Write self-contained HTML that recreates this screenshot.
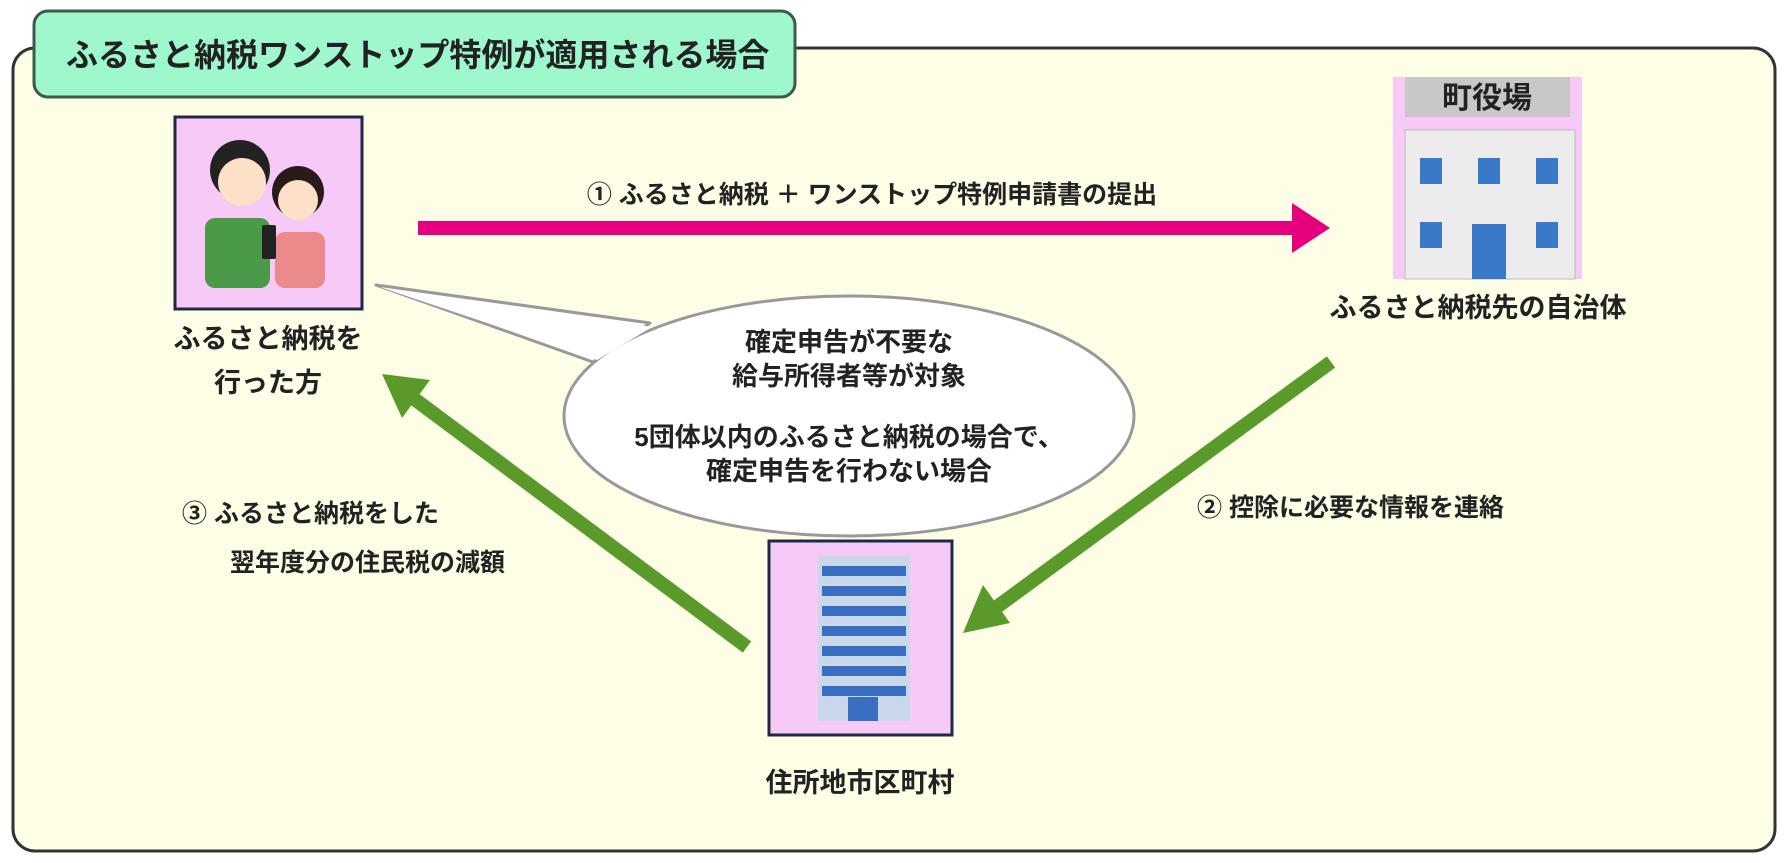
<!DOCTYPE html>
<html><head><meta charset="utf-8"><style>
html,body{margin:0;padding:0;background:#fff;width:1787px;height:863px;overflow:hidden}
svg text{font-family:"Liberation Sans","Noto Sans CJK JP",sans-serif;font-weight:bold;fill:#222}
</style></head><body>
<svg width="1787" height="863" viewBox="0 0 1787 863" xmlns="http://www.w3.org/2000/svg">
<rect x="13" y="48" width="1762" height="803" rx="22" fill="#fefee6" stroke="#333" stroke-width="3"/>
<rect x="34" y="11" width="761" height="86" rx="14" fill="#9ff7cc" stroke="#3c5a48" stroke-width="3"/>
<text x="66" y="66" font-size="32">ふるさと納税ワンストップ特例が適用される場合</text>

<!-- people box -->
<rect x="175" y="117" width="187" height="192" fill="#f7c9f7" stroke="#1e2a44" stroke-width="3"/>
<circle cx="240" cy="170" r="30" fill="#222"/><circle cx="242" cy="182" r="24" fill="#fde0c8"/>
<rect x="205" y="218" width="65" height="70" rx="10" fill="#4a9a4a"/>
<circle cx="298" cy="192" r="26" fill="#2a1a1a"/><circle cx="298" cy="200" r="20" fill="#fde0c8"/>
<rect x="275" y="232" width="50" height="56" rx="10" fill="#ea8a8a"/>
<rect x="262" y="225" width="14" height="34" rx="2" fill="#222"/>
<text x="268" y="348" font-size="27" text-anchor="middle">ふるさと納税を</text>
<text x="268" y="392" font-size="27" text-anchor="middle">行った方</text>

<!-- town hall -->
<rect x="1393" y="77" width="189" height="202" fill="#f7c9f7"/>
<rect x="1405" y="77" width="165" height="40" fill="#c8c8c8"/>
<text x="1487" y="108" font-size="30" text-anchor="middle" fill="#444">町役場</text>
<rect x="1405" y="130" width="170" height="149" fill="#ececec" stroke="#bbb"/>
<g fill="#3a78c8"><rect x="1420" y="158" width="22" height="26"/><rect x="1478" y="158" width="22" height="26"/><rect x="1536" y="158" width="22" height="26"/><rect x="1420" y="222" width="22" height="26"/><rect x="1536" y="222" width="22" height="26"/><rect x="1472" y="224" width="34" height="55"/></g>
<text x="1478" y="317" font-size="27" text-anchor="middle">ふるさと納税先の自治体</text>

<!-- city building -->
<rect x="769" y="541" width="183" height="194" fill="#f7c9f7" stroke="#1e2a44" stroke-width="3"/>
<rect x="818" y="556" width="92" height="165" fill="#c8d8ea"/>
<g fill="#3a6ec0"><rect x="822" y="566" width="84" height="10"/><rect x="822" y="586" width="84" height="10"/><rect x="822" y="606" width="84" height="10"/><rect x="822" y="626" width="84" height="10"/><rect x="822" y="646" width="84" height="10"/><rect x="822" y="666" width="84" height="10"/><rect x="822" y="686" width="84" height="10"/><rect x="848" y="697" width="30" height="24"/></g>
<text x="860" y="792" font-size="27" text-anchor="middle">住所地市区町村</text>

<!-- pink arrow -->
<rect x="418" y="221" width="880" height="14" fill="#e6007e"/>
<polygon points="1292,203 1330,228 1292,253" fill="#e6007e"/>
<text x="872" y="203" font-size="25" text-anchor="middle">① ふるさと納税 ＋ ワンストップ特例申請書の提出</text>

<!-- green arrow 2 -->
<line x1="1331" y1="362" x2="990" y2="612" stroke="#5a9a2a" stroke-width="14"/>
<polygon points="963,633 983,585 1010,623" fill="#5a9a2a"/>
<text x="1197" y="516" font-size="25">② 控除に必要な情報を連絡</text>

<!-- green arrow 3 -->
<line x1="747" y1="647" x2="405" y2="392" stroke="#5a9a2a" stroke-width="14"/>
<polygon points="382,374 430,380 402,418" fill="#5a9a2a"/>
<text x="182" y="522" font-size="25">③ ふるさと納税をした</text>
<text x="230" y="571" font-size="25">翌年度分の住民税の減額</text>

<!-- bubble -->
<polygon points="376,285 650,323 593,362" fill="#fff" stroke="#999" stroke-width="3" stroke-linejoin="round"/>
<ellipse cx="849" cy="416" rx="285" ry="120" fill="#fff" stroke="#999" stroke-width="3"/>
<polygon points="380,287 652,327 597,360" fill="#fff"/>
<text x="849" y="351" font-size="26" text-anchor="middle">確定申告が不要な</text>
<text x="849" y="385" font-size="26" text-anchor="middle">給与所得者等が対象</text>
<text x="849" y="446" font-size="26" text-anchor="middle">5団体以内のふるさと納税の場合で、</text>
<text x="849" y="480" font-size="26" text-anchor="middle">確定申告を行わない場合</text>
</svg>
</body></html>
